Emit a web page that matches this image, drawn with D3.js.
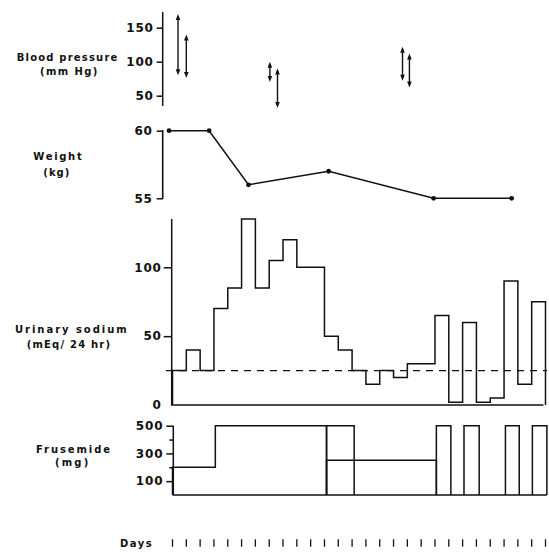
<!DOCTYPE html>
<html>
<head>
<meta charset="utf-8">
<script src="https://cdn.jsdelivr.net/npm/d3@7/dist/d3.min.js"></script>
<style>
  body { margin: 0; background: #fff; }
  svg text { font-family: "DejaVu Sans", sans-serif; font-weight: bold; fill: #111; }
  .tick text { font-size: 12px; letter-spacing: 0.8px; }
</style>
</head>
<body>
<svg id="chart" width="549" height="553"></svg>
<script>
// ---- data ----
var dayTicks = [0, 1, 2, 3, 4, 5, 6, 7, 8, 9, 10, 11, 12, 13, 14,
                15, 16, 17, 18, 19, 20, 21, 22, 23, 24, 25, 26, 27];

// blood pressure: each arrow spans low..high (mm Hg)
var bpDays = [0.4, 1.0, 7.05, 7.6, 16.65, 17.15];
var bpHigh = [170, 140, 100, 90, 122, 112];
var bpLow  = [80, 76, 70, 32, 72, 62];
var bpTicks = [50, 100, 150];

// weight (kg)
var weightDays = [-0.25, 2.65, 5.5, 11.3, 18.9, 24.55];
var weightKg   = [60, 60, 56, 57, 55, 55];
var weightTicks = [55, 60];

// urinary sodium, one value per day (mEq/24 hr)
var sodiumValues = [25, 40, 25, 70, 85, 135, 85, 105, 120, 100, 100, 50, 40, 25,
                    15, 25, 20, 30, 30, 65, 2, 60, 2, 5, 90, 15, 75];
var sodiumNormal = 25;
var sodiumTicks = [0, 50, 100];

// frusemide doses (mg): start day, end day, dose, drawn run
var frusStart = [0, 3.1, 11.15, 11.15, 19.1, 21.1, 24.1, 26.05];
var frusEnd   = [3.1, 11.15, 13.15, 19.1, 20.15, 22.2, 25.1, 27.1];
var frusDose  = [200, 500, 500, 250, 500, 500, 500, 500];
var frusRun   = [0, 0, 1, 2, 3, 4, 5, 6];
var frusTicks = [100, 200, 300, 400, 500];
var frusLabels = [100, 300, 500];

var svg = d3.select("#chart");
var INK = "#111";
var fmt = d3.format("d");

var x = d3.scaleLinear().domain([0, 27]).range([172.5, 545.5]);

/**
 * put a bold label with a fixed width (the original type is widely spaced)
 */
function label(txt, x0, y0, w) {
    svg.append("text")
        .attr("x", x0)
        .attr("y", y0)
        .attr("font-size", 10)
        .attr("textLength", w)
        .attr("lengthAdjust", "spacing")
        .text(txt);
}

/**
 * style an axis group drawn by d3.axisLeft
 */
function styleAxis(g) {
    g.selectAll("line, path").attr("stroke", INK).attr("stroke-width", 1.5);
    g.selectAll("text").attr("fill", INK);
}

/**
 * path of a run of [start, end, value] steps, closed down to the baseline
 */
function stepPath(steps, y, base) {
    var p = d3.path();
    p.moveTo(x(steps[0][0]), base);
    steps.forEach(function(s) {
        p.lineTo(x(s[0]), y(s[2]));
        p.lineTo(x(s[1]), y(s[2]));
    });
    p.lineTo(x(steps[steps.length - 1][1]), base);
    return p.toString();
}

function rule(x1, y1, x2, y2) {
    svg.append("line")
        .attr("x1", x1).attr("y1", y1)
        .attr("x2", x2).attr("y2", y2)
        .attr("stroke", INK).attr("stroke-width", 1.5);
}

function line(d) {
    svg.append("path")
        .attr("d", d)
        .attr("fill", "none").attr("stroke", INK).attr("stroke-width", 1.5);
}

// ---------- blood pressure ----------
var yBP = d3.scaleLinear().domain([50, 150]).range([95.7, 27.7]);
var bpAxisX = 162.7;

svg.append("g")
    .attr("transform", "translate(" + bpAxisX + ",0)")
    .call(d3.axisLeft(yBP).tickValues(bpTicks).tickSize(6).tickPadding(3).tickFormat(fmt))
    .call(function(g) { g.select(".domain").remove(); })
    .call(styleAxis);
rule(bpAxisX, yBP(173), bpAxisX, yBP(35));

var bp = svg.append("g").selectAll("g")
    .data(bpDays.map(function(d, i) { return {day: d, hi: bpHigh[i], lo: bpLow[i]}; }))
    .enter().append("g");
bp.append("line")
    .attr("x1", function(d) { return x(d.day); })
    .attr("x2", function(d) { return x(d.day); })
    .attr("y1", function(d) { return yBP(d.hi) + 3; })
    .attr("y2", function(d) { return yBP(d.lo) - 3; })
    .attr("stroke", INK).attr("stroke-width", 1.4);
// arrow heads, up and down
bp.append("path")
    .attr("d", function(d) {
        var cx = x(d.day), t = yBP(d.hi);
        return "M" + cx + "," + t + "L" + (cx - 2.3) + "," + (t + 6) + "L" + (cx + 2.3) + "," + (t + 6) + "Z";
    })
    .attr("fill", INK);
bp.append("path")
    .attr("d", function(d) {
        var cx = x(d.day), b = yBP(d.lo);
        return "M" + cx + "," + b + "L" + (cx - 2.3) + "," + (b - 6) + "L" + (cx + 2.3) + "," + (b - 6) + "Z";
    })
    .attr("fill", INK);

label("Blood pressure", 16.7, 60.5, 100.6);
label("(mm Hg)", 40, 74.5, 57.3);

// ---------- weight ----------
var yW = d3.scaleLinear().domain([55, 60]).range([198.3, 130.7]);

svg.append("g")
    .attr("transform", "translate(" + bpAxisX + ",0)")
    .call(d3.axisLeft(yW).tickValues(weightTicks).tickSize(6).tickPadding(4).tickFormat(fmt))
    .call(function(g) { g.select(".domain").remove(); })
    .call(styleAxis);
// bracket shaped axis: the vertical joining the two ticks
svg.append("rect")
    .attr("x", bpAxisX - 0.8)
    .attr("y", yW(60) - 0.75)
    .attr("width", 1.6)
    .attr("height", yW(55) - yW(60) + 1.5)
    .attr("fill", INK);

var wPts = weightDays.map(function(d, i) { return [d, weightKg[i]]; });
svg.append("path")
    .datum(wPts)
    .attr("d", d3.line().x(function(d) { return x(d[0]); }).y(function(d) { return yW(d[1]); }))
    .attr("fill", "none").attr("stroke", INK).attr("stroke-width", 1.5);
svg.append("g").selectAll("circle")
    .data(wPts)
    .enter().append("circle")
    .attr("cx", function(d) { return x(d[0]); })
    .attr("cy", function(d) { return yW(d[1]); })
    .attr("r", 2.4)
    .attr("fill", INK);

label("Weight", 33.3, 160.2, 48.4);
label("(kg)", 43.3, 175.5, 26);

// ---------- urinary sodium ----------
var yNa = d3.scaleLinear().domain([0, 100]).range([405, 267.3]);
var naAxisX = 171.7;

svg.append("g")
    .attr("transform", "translate(" + naAxisX + ",0)")
    .call(d3.axisLeft(yNa).tickValues(sodiumTicks).tickSize(8).tickPadding(2).tickFormat(fmt))
    .call(function(g) {
        g.select(".domain").remove();
        g.selectAll(".tick").filter(function(d) { return d === 0; })
            .select("line").remove();
    })
    .call(styleAxis);
line("M" + naAxisX + "," + yNa(135) + "V" + yNa(0) + "H" + x(26.85));

var naSteps = sodiumValues.map(function(v, i) { return [i, i + 1, v]; });
line(stepPath(naSteps, yNa, yNa(0)));

svg.append("line")
    .attr("x1", 166).attr("x2", 547)
    .attr("y1", yNa(sodiumNormal)).attr("y2", yNa(sodiumNormal))
    .attr("stroke", INK).attr("stroke-width", 1.3)
    .attr("stroke-dasharray", "7,6");

label("Urinary sodium", 15, 332.7, 111.7);
label("(mEq/ 24 hr)", 26.7, 348.3, 83.3);

// ---------- frusemide ----------
var yF = d3.scaleLinear().domain([0, 500]).range([495, 425.7]);
var fAxisX = 173.3;

svg.append("g")
    .attr("transform", "translate(" + fAxisX + ",0)")
    .call(d3.axisLeft(yF).tickValues(frusTicks).tickSize(7).tickPadding(3)
        .tickFormat(function(d) { return frusLabels.indexOf(d) >= 0 ? d : ""; }))
    .call(function(g) {
        g.select(".domain").remove();
        g.selectAll(".tick").filter(function(d) { return frusLabels.indexOf(d) < 0; })
            .select("line").attr("x2", -4);
    })
    .call(styleAxis);
line("M" + fAxisX + "," + yF(500) + "V" + yF(0) + "H" + x(27.1));

var runs = d3.groups(frusStart.map(function(s, i) {
    return {run: frusRun[i], step: [s, frusEnd[i], frusDose[i]]};
}), function(d) { return d.run; });
svg.append("g").selectAll("path")
    .data(runs)
    .enter().append("path")
    .attr("d", function(r) {
        return stepPath(r[1].map(function(d) { return d.step; }), yF, yF(0));
    })
    .attr("fill", "none").attr("stroke", INK).attr("stroke-width", 1.5);

label("Frusemide", 36, 453.3, 74);
label("(mg)", 55, 466, 33.3);

// ---------- days ----------
svg.append("g").selectAll("line")
    .data(dayTicks)
    .enter().append("line")
    .attr("x1", function(d) { return x(d); })
    .attr("x2", function(d) { return x(d); })
    .attr("y1", 539.3).attr("y2", 546.7)
    .attr("stroke", INK).attr("stroke-width", 1.3);

label("Days", 120, 546.7, 31.7);
</script>
</body>
</html>
